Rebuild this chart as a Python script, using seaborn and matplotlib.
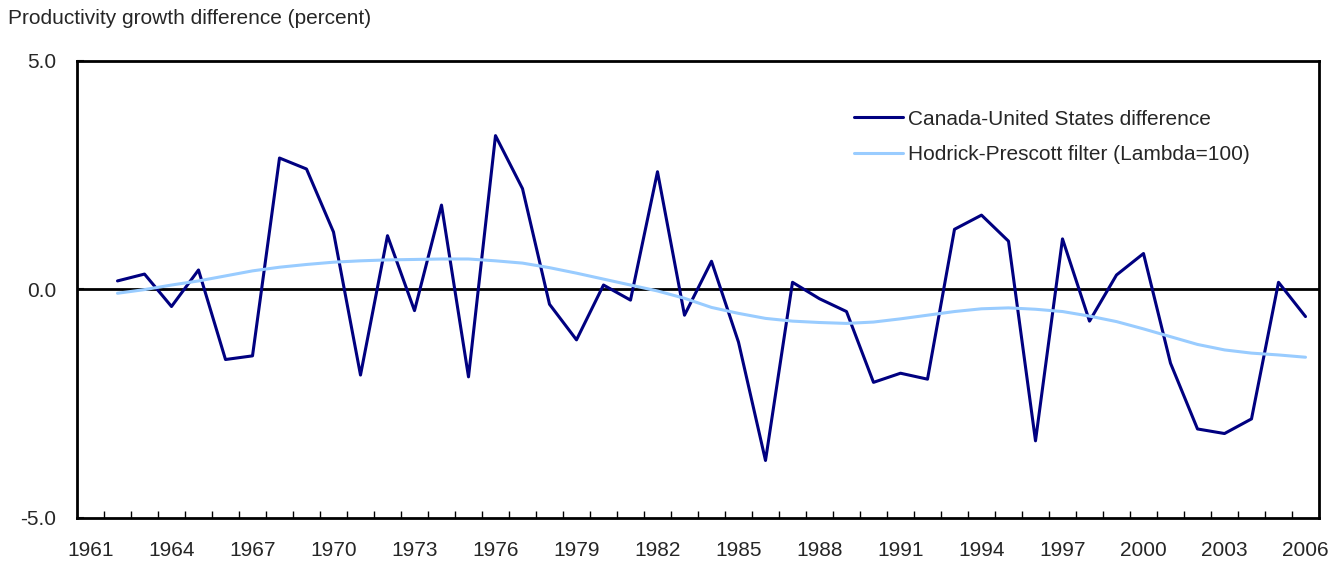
import numpy as np
import pandas as pd
import matplotlib
matplotlib.use('Agg')
import matplotlib.pyplot as plt
import seaborn as sns

# data
years = list(range(1962, 2007))
can_us_diff = [0.18, 0.33, -0.38, 0.42, -1.54, -1.46, 2.87, 2.63, 1.25, -1.88,
               1.17, -0.47, 1.84, -1.92, 3.36, 2.20, -0.33, -1.11, 0.09, -0.24,
               2.57, -0.57, 0.61, -1.16, -3.75, 0.15, -0.21, -0.49, -2.04, -1.84,
               -1.97, 1.31, 1.62, 1.05, -3.32, 1.10, -0.70, 0.31, 0.78, -1.62,
               -3.06, -3.16, -2.84, 0.15, -0.60]
hp_filter = [-0.09, -0.01, 0.09, 0.18, 0.29, 0.40, 0.48, 0.54, 0.59, 0.62,
             0.64, 0.65, 0.66, 0.66, 0.62, 0.57, 0.47, 0.35, 0.22, 0.09,
             -0.04, -0.20, -0.40, -0.53, -0.64, -0.70, -0.73, -0.75, -0.72, -0.65,
             -0.57, -0.49, -0.43, -0.41, -0.44, -0.49, -0.59, -0.71, -0.87, -1.04,
             -1.21, -1.33, -1.40, -1.44, -1.49]
tick_years = list(range(1961, 2007, 3))
series_names = ['Canada-United States difference', 'Hodrick-Prescott filter (Lambda=100)']

df = pd.DataFrame({
    'year': years * 2,
    'value': can_us_diff + hp_filter,
    'series': [series_names[0]] * len(years) + [series_names[1]] * len(years),
})

sns.set_style('white')
plt.rcParams['font.family'] = ['Liberation Sans', 'DejaVu Sans']

fig = plt.figure(figsize=(13.44, 5.63), dpi=100)
ax = fig.add_axes([77 / 1344, 1 - 517.6 / 563, (1319 - 77) / 1344, (517.6 - 60.7) / 563])

ax.axhline(0, color='black', lw=2, zorder=1)
sns.lineplot(data=df, x='year', y='value', hue='series', hue_order=series_names,
             palette=['#000080', '#99CCFF'], linewidth=2.2, ax=ax, zorder=3)

ax.set_xlim(1960.5, 2006.5)
ax.set_ylim(-5, 5)
ax.set_xticks(tick_years)
ax.set_xticklabels([str(y) for y in tick_years])
ax.set_xticks(np.arange(1961.5, 2006, 1), minor=True)
ax.tick_params(axis='x', which='major', length=0, labelsize=15, pad=17)
ax.tick_params(axis='x', which='minor', direction='in', length=5, width=1, color='black', bottom=True)
ax.set_yticks([-5, 0, 5])
ax.set_yticklabels(['-5.0', '0.0', '5.0'])
ax.tick_params(axis='y', which='major', direction='in', length=5, width=1.5, labelsize=15, pad=15, left=True)
ax.set_xlabel('')
ax.set_ylabel('')
for s in ax.spines.values():
    s.set_visible(True)
    s.set_color('black')
    s.set_linewidth(2)

leg = ax.legend(loc='upper left', bbox_to_anchor=(0.6256, 0.893), frameon=False,
                fontsize=15, handlelength=2.35, handletextpad=0.25, labelspacing=0.78,
                borderpad=0, borderaxespad=0)
for line in leg.get_lines():
    line.set_linewidth(2.2)

fig.text(8 / 1344, 1 - 18 / 563, 'Productivity growth difference (percent)',
         fontsize=15, ha='left', va='center')

fig.savefig('out.png', dpi=100)
